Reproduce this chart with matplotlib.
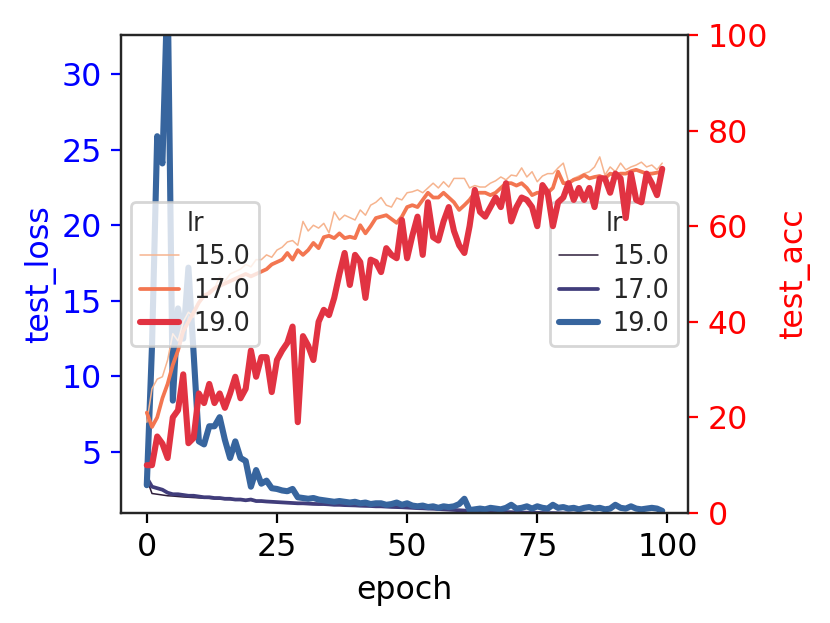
import matplotlib
matplotlib.use("Agg")
import matplotlib.pyplot as plt

epochs = list(range(100))
lr_levels = ["15.0", "17.0", "19.0"]

loss_15 = [3.2, 2.25, 2.2, 2.15, 2.1, 2.08, 2.05, 2.02, 2.0, 1.98,
           1.96, 1.94, 1.93, 1.9, 1.88, 1.86, 1.85, 1.83, 1.82, 1.8,
           1.8, 1.74, 1.73, 1.71, 1.69, 1.67, 1.65, 1.63, 1.61, 1.6,
           1.59, 1.57, 1.55, 1.54, 1.54, 1.52, 1.5, 1.49, 1.47, 1.46,
           1.45, 1.43, 1.42, 1.41, 1.39, 1.39, 1.37, 1.35, 1.34, 1.33,
           1.31, 1.29, 1.27, 1.26, 1.24, 1.23, 1.21, 1.19, 1.17, 1.15,
           1.13, 1.11, 1.09, 1.07, 1.06, 1.05, 1.04, 1.03, 1.02, 1.01,
           1.0, 0.99, 0.98, 0.97, 0.97, 0.96, 0.95, 0.94, 0.94, 0.93,
           0.92, 0.92, 0.91, 0.91, 0.9, 0.9, 0.89, 0.89, 0.88, 0.88,
           0.87, 0.87, 0.86, 0.86, 0.86, 0.85, 0.85, 0.84, 0.84, 0.84]
loss_17 = [3.3, 2.7, 2.6, 2.5, 2.3, 2.2, 2.2, 2.15, 2.1, 2.1,
           2.05, 2.0, 2.0, 1.95, 1.95, 1.9, 1.9, 1.85, 1.85, 1.8,
           1.85, 1.75, 1.75, 1.72, 1.7, 1.68, 1.66, 1.64, 1.62, 1.6,
           1.6, 1.58, 1.56, 1.55, 1.55, 1.53, 1.5, 1.5, 1.48, 1.47,
           1.46, 1.44, 1.43, 1.42, 1.4, 1.4, 1.38, 1.36, 1.35, 1.34,
           1.32, 1.3, 1.28, 1.27, 1.25, 1.24, 1.22, 1.2, 1.18, 1.16,
           1.14, 1.12, 1.1, 1.08, 1.07, 1.06, 1.05, 1.04, 1.03, 1.02,
           1.01, 1.0, 0.99, 0.98, 0.98, 0.97, 0.96, 0.95, 0.95, 0.94,
           0.93, 0.93, 0.92, 0.92, 0.91, 0.91, 0.9, 0.9, 0.89, 0.89,
           0.88, 0.88, 0.87, 0.87, 0.87, 0.86, 0.86, 0.85, 0.85, 0.85]
loss_19 = [2.8, 12.0, 25.9, 24.1, 36.0, 8.4, 14.5, 12.5, 17.2, 11.5,
           5.7, 5.5, 6.7, 6.7, 7.3, 5.8, 4.6, 5.7, 4.6, 4.4,
           2.7, 3.8, 2.9, 3.1, 2.6, 2.55, 2.45, 2.4, 2.55, 2.0,
           1.95, 1.9, 1.95, 1.85, 1.8, 1.75, 1.7, 1.75, 1.7, 1.65,
           1.7, 1.6, 1.65, 1.55, 1.6, 1.6, 1.5, 1.55, 1.65, 1.5,
           1.6, 1.45, 1.4, 1.45, 1.35, 1.4, 1.3, 1.4, 1.35, 1.4,
           1.55, 1.9, 1.15, 1.2, 1.25, 1.2, 1.3, 1.25, 1.2, 1.3,
           1.5, 1.25, 1.3, 1.4, 1.25, 1.4, 1.3, 1.25, 1.5, 1.3,
           1.35, 1.25, 1.3, 1.2, 1.3, 1.35, 1.25, 1.3, 1.2, 1.25,
           1.5, 1.3, 1.25, 1.4, 1.25, 1.2, 1.25, 1.3, 1.25, 1.1]

acc_15 = [19, 26, 28, 28.5, 32, 37.5, 36, 40, 42, 41,
          44, 45, 46.5, 47, 49.4, 48.5, 50, 50.5, 51, 52,
          51.5, 53, 53, 54, 53.5, 55, 55.6, 56.7, 57, 56,
          61, 59, 60.2, 59.6, 60.6, 58.6, 63, 61.3, 62.3, 61.8,
          61.3, 63.4, 62.3, 64.4, 65, 66, 64.4, 64, 65.9, 65.5,
          67, 67.2, 67.6, 67, 68, 69, 68, 69.3, 68.2, 70,
          70, 70, 68, 68.5, 68.2, 68.2, 69, 69.5, 70.3, 69.7,
          70.7, 70.5, 72.2, 70.3, 71.4, 69.3, 70.5, 71, 71, 72.2,
          73.2, 69.3, 70, 70.5, 71, 71.4, 72.4, 74.5, 70.7, 72.4,
          71.4, 73.2, 71.8, 72.4, 72.8, 73.4, 72.4, 72.8, 71.8, 73.2]
acc_17 = [21, 18, 20, 24, 27, 31, 34, 38, 40, 42,
          44, 45.5, 46, 47, 47.5, 48, 48.5, 49, 49.5, 50,
          49.5, 50, 50.5, 51, 52, 52.5, 53, 54.4, 53, 55,
          54, 55, 56.5, 55.4, 57.7, 58, 57.5, 58.5, 57.5, 57.8,
          57.5, 60.2, 58.5, 60, 61.7, 62, 62.3, 61.5, 60.7, 62,
          64, 64.4, 64, 65.5, 67, 66, 66, 67, 66, 65,
          63.4, 64.4, 65.5, 67, 67, 67, 66.5, 67, 68, 69,
          69, 68.5, 69, 68, 66.5, 67, 67, 67, 68, 71.4,
          69, 69, 69.7, 70, 70.7, 70, 70.3, 70.5, 70, 71,
          70.7, 71, 71, 71.5, 71.8, 71.4, 71, 71, 71.2, 71.4]
acc_19 = [10, 10, 16, 14.5, 11.5, 20, 21.5, 29, 14.6, 15.7,
          25, 23, 27, 23, 25, 22, 25, 28.5, 24, 26,
          34, 28.5, 32.6, 32.6, 25.3, 32, 34, 35.6, 39, 19,
          37, 35, 32, 40, 42.5, 41.4, 45, 50, 54.4, 47.7,
          54, 52.5, 45, 53, 52.5, 50.4, 55.4, 54, 53.3, 61.3,
          53.3, 58, 62, 54, 65, 57.7, 57, 61, 64, 59,
          56, 54.4, 60, 67.6, 63, 62, 64, 66, 64, 69,
          61, 64, 66, 65.5, 64, 60, 68.6, 67, 60, 65,
          66, 69, 65.5, 68, 65.5, 68, 64, 70, 70, 67,
          71, 70, 61.7, 71, 65.5, 65, 71, 69, 66.5, 72]

loss_series = [loss_15, loss_17, loss_19]
acc_series = [acc_15, acc_17, acc_19]
loss_colors = ["#2e1e3b", "#413d7b", "#37659e"]
acc_colors = ["#f6b48f", "#f37651", "#e13342"]
widths = [0.55, 1.35, 2.2]

fig = plt.figure(figsize=(4.15, 3.115), dpi=200)
ax1 = fig.add_axes([0.1458, 0.1766, 0.6831, 0.7672])
ax2 = ax1.twinx()

for lab, ys, c, w in zip(lr_levels, loss_series, loss_colors, widths):
    ax1.plot(epochs, ys, color=c, lw=w, label=lab,
             solid_capstyle="round", solid_joinstyle="round")
for lab, ys, c, w in zip(lr_levels, acc_series, acc_colors, widths):
    ax2.plot(epochs, ys, color=c, lw=w, label=lab,
             solid_capstyle="round", solid_joinstyle="round")

ax1.set_xlim(-4.95, 103.95)
ax1.set_ylim(0.96, 32.6)
ax2.set_ylim(0, 100)
ax1.set_xticks([0, 25, 50, 75, 100])
ax1.set_yticks([5, 10, 15, 20, 25, 30])
ax2.set_yticks([0, 20, 40, 60, 80, 100])

fs = 11.4
ax1.tick_params(axis="x", labelsize=fs, width=0.8, length=3.5, colors="black")
ax1.tick_params(axis="y", labelsize=fs, width=0.8, length=3.5, colors="blue")
ax2.tick_params(axis="y", labelsize=fs, width=0.8, length=3.5, colors="red")
ax1.set_xlabel("epoch", fontsize=fs)
ax1.set_ylabel("test_loss", fontsize=fs, color="blue", labelpad=2)
ax2.set_ylabel("test_acc", fontsize=fs, color="red")

for ax in (ax1, ax2):
    for sp in ax.spines.values():
        sp.set_color("#262626")
        sp.set_linewidth(0.8)

lfs = 9.2
leg_kw = dict(title="lr", fontsize=lfs, title_fontsize=lfs, handlelength=1.55,
              handletextpad=0.55, labelspacing=0.28, borderaxespad=0.38,
              borderpad=0.35)
leg1 = ax1.legend(loc="center right", **leg_kw)
leg2 = ax2.legend(loc="center left", **leg_kw)
for leg in (leg1, leg2):
    for t in leg.get_texts():
        t.set_color("#262626")
    leg.get_title().set_color("#262626")

fig.savefig("out.png", dpi=200)
